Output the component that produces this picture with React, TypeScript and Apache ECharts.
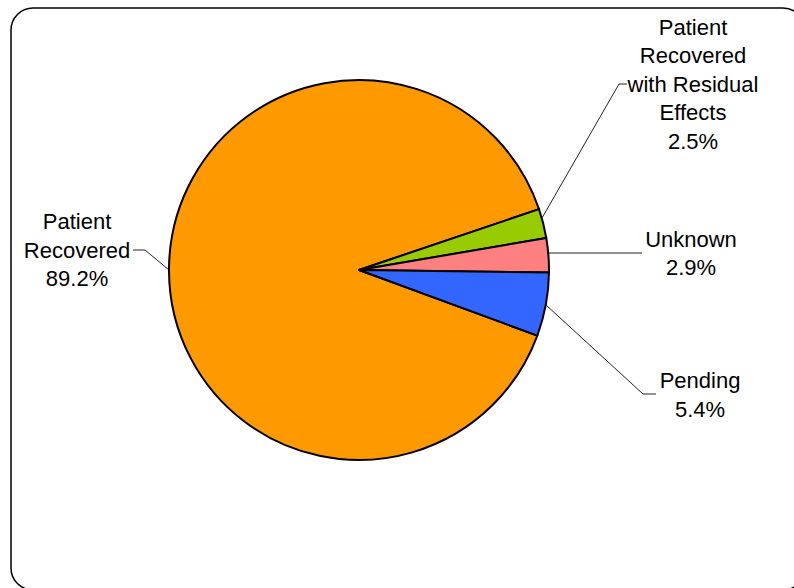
import React, { useEffect, useRef } from "react";
import * as echarts from "echarts";

const categories = [
  "Patient\nRecovered",
  "Patient\nRecovered\nwith Residual\nEffects",
  "Unknown",
  "Pending",
];
const percentages = [89.2, 2.5, 2.9, 5.4];
const colors = ["#FF9900", "#99CC00", "#FF8080", "#3366FF"];

// label block centres and leader line points (layout only)
const labelCenters: [number, number][] = [
  [77, 250],
  [693, 84],
  [691, 253.5],
  [700, 395],
];
const leaderLines: [number, number][][] = [
  [[169, 270], [145, 250], [133, 250]],
  [[542, 218], [619, 84], [627, 84]],
  [[548, 253], [600, 253], [642, 253]],
  [[546, 305], [643, 394], [656, 394]],
];

export default function App() {
  const ref = useRef<HTMLDivElement>(null);
  useEffect(() => {
    document.body.style.margin = "0";
    const chart = echarts.init(ref.current!, null, { renderer: "svg" });
    chart.setOption({
      animation: false,
      backgroundColor: "#ffffff",
      graphic: [
        {
          type: "rect",
          shape: { x: 11, y: 8, width: 794, height: 582, r: 22 },
          style: { fill: "none", stroke: "#000", lineWidth: 1.5 },
          silent: true,
        },
      ],
      series: [
        {
          type: "pie",
          center: [359, 270],
          radius: [0, 190],
          startAngle: 339.8,
          clockwise: true,
          avoidLabelOverlap: false,
          data: categories.map((name, i) => ({
            name,
            value: percentages[i],
            itemStyle: { color: colors[i] },
          })),
          itemStyle: { borderColor: "#000", borderWidth: 2 },
          label: {
            show: true,
            position: "outside",
            formatter: (p: any) => `${p.name}\n${p.value.toFixed(1)}%`,
            fontFamily: "Liberation Sans, Arial, sans-serif",
            fontSize: 22,
            lineHeight: 28.5,
            color: "#000",
            align: "center",
          },
          labelLine: {
            show: true,
            smooth: false,
            lineStyle: { color: "#222", width: 1 },
          },
          labelLayout: (params: any) => {
            const i = params.dataIndex;
            return {
              x: labelCenters[i][0],
              y: labelCenters[i][1],
              align: "center",
              verticalAlign: "middle",
              labelLinePoints: leaderLines[i],
            };
          },
          emphasis: { disabled: true },
        },
      ],
    });
    return () => chart.dispose();
  }, []);
  return <div ref={ref} style={{ width: 794, height: 588 }} />;
}
